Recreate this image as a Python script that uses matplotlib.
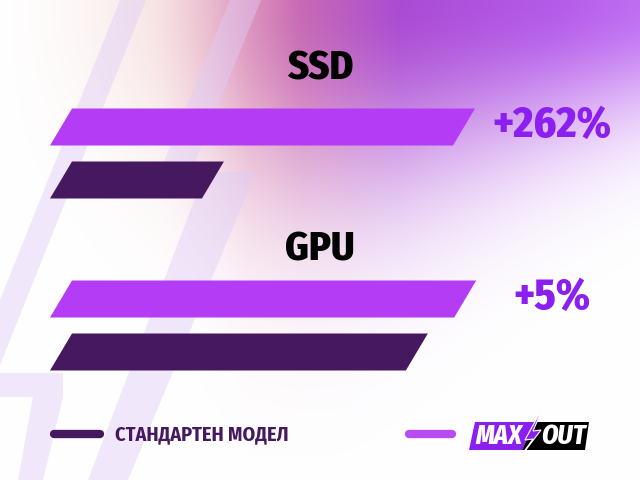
import numpy as np
import matplotlib
matplotlib.use("Agg")
import matplotlib.pyplot as plt
from matplotlib.patches import Polygon

# ---------------- data ----------------
categories = ["SSD", "GPU"]
maxout_values = [100.0, 100.3]      # relative bar lengths (MAX OUT)
standard_values = [37.7, 88.3]      # relative bar lengths (standard model)
gain_labels = ["+262%", "+5%"]
legend_standard = "СТАНДАРТЕН МОДЕЛ"
logo_left, logo_right = "MAX", "OUT"

# ---------------- style ----------------
FONT = ["Fira Sans Condensed", "Roboto Condensed", "Barlow Condensed", "DejaVu Sans"]
FONT_CYR = ["Fira Sans Condensed", "Roboto Condensed", "DejaVu Sans"]
C_MAX = "#B43CF5"
C_STD = "#46185F"
C_GAIN = "#8A1FF0"
C_STRIPE = (0.88, 0.80, 0.965)

W, H = 640, 480
fig = plt.figure(figsize=(6.4, 4.8), dpi=100)

# ---------- background gradient ----------
bg = fig.add_axes([0, 0, 1, 1])
bg.set_xlim(0, W)
bg.set_ylim(H, 0)
bg.axis("off")
yy, xx = np.mgrid[0:H, 0:W] + 0.5
f = np.interp(xx, [0, 80, 160, 230, 300, 400, 560, 640],
              [0.0, 0.12, 0.32, 0.62, 0.88, 0.97, 0.95, 0.9])
ys = np.interp(xx, [0, 150, 250, 350, 450, 550, 640],
               [140, 170, 210, 200, 170, 138, 115])
w = f * np.exp(-(yy / ys) ** 2)
stops = [0, 150, 250, 300, 400, 550, 640]
cols = np.array([[240, 200, 190], [232, 170, 170], [205, 100, 160],
                 [192, 86, 170], [168, 70, 210], [176, 82, 232], [184, 94, 240]]) / 255.0
img = np.ones((H, W, 3))
for c in range(3):
    hue = np.interp(xx, stops, cols[:, c])
    img[..., c] = (1 - w) + hue * w
bg.imshow(img, extent=(0, W, H, 0), aspect="auto", zorder=0, interpolation="bilinear")

# decorative lightning stripes
stripes = [
    [(120, 0), (146, 0), (-14, 400), (-40, 400)],
    [(0, 373), (63, 373), (63, 397), (0, 397)],
    [(33, 397), (63, 397), (43, 480), (18, 480)],
    [(230, 0), (261, 0), (190, 174), (159, 174)],
    [(205, 172), (256, 172), (128, 480), (88, 480)],
]
for s in stripes:
    bg.add_patch(Polygon(s, closed=True, facecolor=C_STRIPE, edgecolor="none",
                         alpha=0.45, zorder=1))

# ---------- bars ----------
PX = 4.03                     # pixels per value unit
X0 = 50                       # pixel of value 0
ax = fig.add_axes([0, 0, 1, 1])
ax.set_xlim(-X0 / PX, (W - X0) / PX)
ax.set_ylim(H, 0)
ax.axis("off")
ax.patch.set_alpha(0)

skew = 22 / PX
bar_h = 37
row_max = [127, 299]
row_std = [180, 352]


def slanted_bar(length, yc, color):
    pts = [(0, yc + bar_h / 2), (skew, yc - bar_h / 2),
           (skew + length, yc - bar_h / 2), (length, yc + bar_h / 2)]
    ax.add_patch(Polygon(pts, closed=True, facecolor=color, edgecolor="none", zorder=3))


for i, cat in enumerate(categories):
    slanted_bar(maxout_values[i], row_max[i], C_MAX)
    slanted_bar(standard_values[i], row_std[i], C_STD)

# ---------- texts ----------
cat_y = [69, 250]
for i, cat in enumerate(categories):
    bg.text(320, cat_y[i], cat, family=FONT, fontstretch="condensed", fontweight=800,
            fontsize=29, color="black", ha="center", va="center", zorder=5)
    bg.text(552, row_max[i] - 1, gain_labels[i], family=FONT, fontstretch="condensed",
            fontweight=800, fontsize=31, color=C_GAIN, ha="center", va="center", zorder=5)

# ---------- legend ----------
bg.plot([54, 100], [434, 434], color=C_STD, lw=6, solid_capstyle="round", zorder=5)
bg.text(115, 435, legend_standard, family=FONT_CYR, fontstretch="condensed", fontweight="bold",
        fontsize=14.5, color=C_STD, ha="left", va="center", zorder=5)
bg.plot([409, 452], [434, 434], color="#B84CF2", lw=6, solid_capstyle="round", zorder=5)

# logo
bg.add_patch(Polygon([(469, 450), (475, 422), (535, 422), (522, 450)], closed=True,
                     facecolor=C_GAIN, edgecolor="none", zorder=5))
bg.add_patch(Polygon([(522, 450), (535, 422), (589, 422), (585, 450)], closed=True,
                     facecolor="black", edgecolor="none", zorder=5))
bolt = [(544, 405), (525, 440), (533, 439), (518, 460), (541, 430), (533, 431), (544, 405)]
bg.add_patch(Polygon(bolt, closed=True, facecolor=C_GAIN, edgecolor="white",
                     lw=0.8, zorder=6))
bg.text(499, 436.5, logo_left, family=FONT, fontstretch="condensed", fontweight=800,
        fontstyle="italic", fontsize=19, color="white", ha="center", va="center", zorder=7)
bg.text(563, 436.5, logo_right, family=FONT, fontstretch="condensed", fontweight=800,
        fontstyle="italic", fontsize=19, color="white", ha="center", va="center", zorder=7)

fig.savefig("out.png", dpi=100)
